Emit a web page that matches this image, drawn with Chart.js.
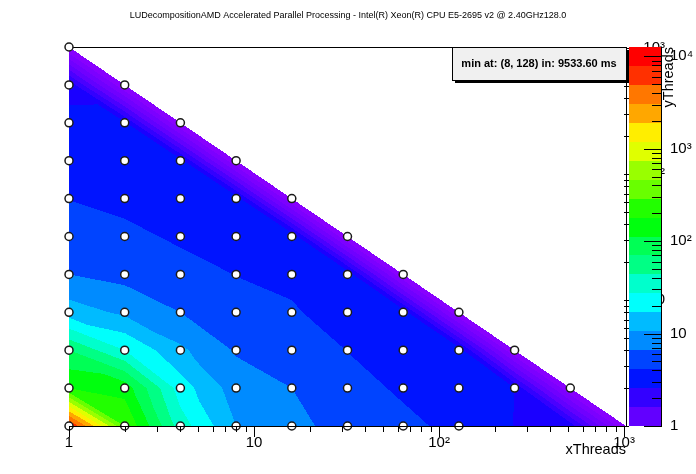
<!DOCTYPE html>
<html><head><meta charset="utf-8">
<script src="https://cdn.jsdelivr.net/npm/chart.js@4.4.1/dist/chart.umd.min.js"></script>
<style>html,body{margin:0;padding:0;background:#fff;overflow:hidden}</style>
</head><body>
<canvas id="c" width="696" height="474" style="display:block;width:696px;height:474px"></canvas>
<script>
const titleText = 'LUDecompositionAMD Accelerated Parallel Processing - Intel(R) Xeon(R) CPU E5-2695 v2 @ 2.40GHz128.0';
const legendText = 'min at: (8, 128) in: 9533.60 ms';
const xTitle = 'xThreads';
const yTitle = 'yThreads';

const xThreads = [1, 2, 4, 8, 16, 32, 64, 128, 256, 512, 1024];
const yThreads = [1, 2, 4, 8, 16, 32, 64, 128, 256, 512, 1024];

// z values per yThreads row, one per xThreads column up to the diagonal
const zY1    = [8630, 288.4, 34.5, 10.6, 7.61, 5.43, 4.50, 3.73, 2.56, 2.34, 0.47];
const zY2    = [179.9, 148.9, 21.5, 8.37, 6.61, 4.71, 3.90, 2.95, 2.57, 0.47];
const zY4    = [70.0, 27.2, 11.6, 6.30, 5.22, 4.09, 3.39, 2.96, 0.47];
const zY8    = [13.4, 9.64, 6.61, 4.98, 4.32, 3.39, 2.96, 0.47];
const zY16   = [6.61, 5.69, 4.71, 4.09, 3.73, 3.10, 0.47];
const zY32   = [5.18, 4.50, 3.90, 3.39, 3.10, 0.47];
const zY64   = [4.09, 3.73, 3.09, 2.96, 0.47];
const zY128  = [3.24, 2.95, 2.82, 0.47];
const zY256  = [2.68, 2.69, 0.47];
const zY512  = [2.45, 0.47];
const zY1024 = [0.47];
const zRows = [zY1, zY2, zY4, zY8, zY16, zY32, zY64, zY128, zY256, zY512, zY1024];

// grid nodes without a drawn marker
const unmarked = [[256, 1], [512, 1], [1024, 1]];

const xTickValues = [1, 10, 100, 1000];
const yTickValues = [1, 10, 100, 1000];
const yLabelValues = [10, 100, 1000];
const zTickValues = [1, 10, 100, 1000, 10000];
const zMin = 1, zMax = 12600, nLevels = 20;

// styles
const bandColors = ['#6200ff','#3300ff','#0014ff','#0044ff','#008bff','#00bbff','#00fffc','#00ffcc','#00ff85','#00ff55',
                    '#00ff0e','#22ff00','#69ff00','#99ff00','#e0ff00','#ffee00','#ffa700','#ff7700','#ff3000','#ff0000'];
// finer shading used in the plot for the lowest levels (level threshold, colour)
const lowShades = [[1.5,'#1a00ff'],[1.0,'#3300ff'],[0.5,'#4a00ff'],[0.0,'#6200ff'],[-0.5,'#7000ff'],[-1.0,'#7c00ff'],[-1e9,'#8800ff']];
const FONT = "'Liberation Sans', Arial, Helvetica, sans-serif";

const SUP = {'0':'\u2070','1':'\u00b9','2':'\u00b2','3':'\u00b3','4':'\u2074','5':'\u2075','6':'\u2076','7':'\u2077','8':'\u2078','9':'\u2079'};
function powLabel(v) {
  const e = Math.round(Math.log10(v));
  if (e === 0) return '1';
  if (e === 1) return '10';
  return '10' + String(e).split('').map(c => SUP[c]).join('');
}
function hexRgb(h) { return [parseInt(h.slice(1,3),16), parseInt(h.slice(3,5),16), parseInt(h.slice(5,7),16)]; }
const bandRgb = bandColors.map(hexRgb);
const lowRgb = lowShades.map(s => [s[0], hexRgb(s[1])]);
const lzMin = Math.log10(zMin), lzMax = Math.log10(zMax);
function levelOf(lz) { return nLevels * (lz - lzMin) / (lzMax - lzMin); }
function rgbForLevel(b) {
  if (b >= 2) return bandRgb[Math.min(nLevels - 1, Math.floor(b))];
  for (const s of lowRgb) if (b >= s[0]) return s[1];
  return lowRgb[lowRgb.length - 1][1];
}
const lzRows = zRows.map(r => r.map(v => Math.log10(v)));
const lxs = xThreads.map(v => Math.log10(v)), lys = yThreads.map(v => Math.log10(v));
const nX = xThreads.length - 1;
function gridCoord(larr, lv) {
  if (lv < larr[0] || lv > larr[larr.length - 1]) return -1;
  let i = 0;
  while (i < larr.length - 2 && lv > larr[i + 1]) i++;
  return i + (lv - larr[i]) / (larr[i + 1] - larr[i]);
}
function lzAt(u, v) {
  if (u < 0 || v < 0 || u + v > nX) return null;
  let i = Math.floor(u), j = Math.floor(v);
  if (i > nX - 1) i = nX - 1;
  if (j > nX - 1) j = nX - 1;
  while (i + j > nX - 1) { if (i > j) i--; else j--; }
  const fu = u - i, fv = v - j;
  const r0 = lzRows[j], r1 = lzRows[j + 1];
  if (fu + fv <= 1 || i + j > nX - 2) {
    return r0[i] + fu * (r0[i + 1] - r0[i]) + fv * (r1[i] - r0[i]);
  }
  const z11 = r1[i + 1];
  return z11 + (1 - fu) * (r1[i] - z11) + (1 - fv) * (r0[i + 1] - z11);
}

const markerData = [];
zRows.forEach((row, j) => row.forEach((z, i) => {
  const x = xThreads[i], y = yThreads[j];
  if (!unmarked.some(p => p[0] === x && p[1] === y)) markerData.push({x, y});
}));

function minorValues(majors, max) {
  const out = [];
  majors.forEach(m => { for (let k = 2; k <= 9; k++) { const v = m * k; if (v <= max) out.push(v); } });
  return out;
}

const contourPlugin = {
  id: 'contour',
  beforeDatasetsDraw(chart) {
    const {ctx, chartArea: ca, scales: {x, y}} = chart;
    const x0 = Math.round(ca.left), y0 = Math.round(ca.top);
    const w = Math.round(ca.right) - x0, h = Math.round(ca.bottom) - y0;
    const off = document.createElement('canvas');
    off.width = w; off.height = h;
    const octx = off.getContext('2d');
    const img = octx.createImageData(w, h);
    const us = [], vs = [];
    for (let px = 0; px < w; px++) us.push(gridCoord(lxs, Math.log10(x.getValueForPixel(x0 + px + 0.5))));
    for (let py = 0; py < h; py++) vs.push(gridCoord(lys, Math.log10(y.getValueForPixel(y0 + py + 0.5))));
    for (let py = 0; py < h; py++) {
      for (let px = 0; px < w; px++) {
        const lz = lzAt(us[px], vs[py]);
        if (lz === null) continue;
        const c = rgbForLevel(levelOf(lz));
        const k = (py * w + px) * 4;
        img.data[k] = c[0]; img.data[k + 1] = c[1]; img.data[k + 2] = c[2]; img.data[k + 3] = 255;
      }
    }
    octx.putImageData(img, 0, 0);
    ctx.save();
    ctx.drawImage(off, x0, y0);
    ctx.strokeStyle = '#000'; ctx.lineWidth = 1;
    ctx.beginPath(); ctx.moveTo(ca.left, ca.top + 0.5); ctx.lineTo(ca.right + 1, ca.top + 0.5); ctx.stroke();
    ctx.restore();
  },
  afterDatasetsDraw(chart) {
    const {ctx, chartArea: ca, scales: {x, y, z}} = chart;
    ctx.save();
    ctx.strokeStyle = '#000'; ctx.lineWidth = 1;
    ctx.beginPath();
    ctx.moveTo(ca.left, ca.bottom + 0.5); ctx.lineTo(ca.right + 1, ca.bottom + 0.5);
    ctx.moveTo(ca.right + 0.5, ca.top); ctx.lineTo(ca.right + 0.5, ca.bottom + 1);
    ctx.stroke();
    ctx.beginPath();
    xTickValues.forEach(v => { const p = Math.round(x.getPixelForValue(v)) + 0.5; ctx.moveTo(p, ca.bottom); ctx.lineTo(p, ca.bottom + 11); });
    minorValues(xTickValues, 1024).forEach(v => { const p = Math.round(x.getPixelForValue(v)) + 0.5; ctx.moveTo(p, ca.bottom); ctx.lineTo(p, ca.bottom + 6); });
    yTickValues.concat(minorValues(yTickValues, 1024)).forEach(v => {
      const p = Math.round(y.getPixelForValue(v)) + 0.5; ctx.moveTo(ca.right - 2, p); ctx.lineTo(ca.right + 3, p);
    });
    ctx.stroke();

    // palette
    const pl = Math.round(ca.right) + 3, pr = Math.round(ca.right) + 35;
    for (let k = 0; k < nLevels; k++) {
      const lo = Math.pow(10, lzMin + k * (lzMax - lzMin) / nLevels);
      const hi = Math.pow(10, lzMin + (k + 1) * (lzMax - lzMin) / nLevels);
      const yb = Math.round(z.getPixelForValue(lo)), yt = Math.round(z.getPixelForValue(hi));
      ctx.fillStyle = bandColors[k];
      ctx.fillRect(pl, yt, pr - pl, yb - yt);
    }
    ctx.beginPath();
    ctx.moveTo(pr + 0.5, ca.top); ctx.lineTo(pr + 0.5, ca.bottom + 1);
    zTickValues.forEach(v => { if (v <= zMax) { const p = Math.round(z.getPixelForValue(v)) + 0.5; ctx.moveTo(pr, p); ctx.lineTo(pr - 17, p); } });
    minorValues(zTickValues, zMax).forEach(v => { const p = Math.round(z.getPixelForValue(v)) + 0.5; ctx.moveTo(pr, p); ctx.lineTo(pr - 9, p); });
    ctx.stroke();
    ctx.fillStyle = '#000';
    ctx.font = '15px ' + FONT;
    ctx.textAlign = 'left'; ctx.textBaseline = 'middle';
    zTickValues.forEach(v => { if (v <= zMax) ctx.fillText(powLabel(v), pr + 9, z.getPixelForValue(v)); });

    ctx.save();
    ctx.translate(pr + 12, ca.top);
    ctx.rotate(-Math.PI / 2);
    ctx.font = '14.5px ' + FONT;
    ctx.textAlign = 'right'; ctx.textBaseline = 'alphabetic';
    ctx.fillText(yTitle, 0, 0);
    ctx.restore();

    const bx = Math.round(ca.right) - 174, by = Math.round(ca.top), bw = 174, bh = 33;
    ctx.fillStyle = '#000';
    ctx.fillRect(bx + 3, by + 3, bw, bh);
    ctx.fillStyle = '#f0f0f0';
    ctx.fillRect(bx, by, bw, bh);
    ctx.strokeRect(bx + 0.5, by + 0.5, bw, bh);
    ctx.fillStyle = '#000';
    ctx.font = 'bold 11px ' + FONT;
    ctx.textAlign = 'center'; ctx.textBaseline = 'middle';
    ctx.fillText(legendText, bx + bw / 2, by + bh / 2 + 0.5);

    ctx.font = '9px ' + FONT;
    ctx.fillText(titleText, chart.width / 2, 16);
    ctx.restore();
  }
};

new Chart(document.getElementById('c'), {
  type: 'scatter',
  data: {
    datasets: [{
      data: markerData,
      xAxisID: 'x', yAxisID: 'y',
      pointRadius: 4, pointBorderWidth: 1.5,
      pointBackgroundColor: '#ffffff', pointBorderColor: '#1a1a1a',
      clip: false
    }]
  },
  options: {
    responsive: false, animation: false, devicePixelRatio: 1, events: [],
    layout: {padding: {top: 47, left: 69, right: 31, bottom: 0}},
    plugins: {legend: {display: false}, tooltip: {enabled: false}, title: {display: false}},
    scales: {
      x: {
        type: 'logarithmic', position: 'bottom', min: 1, max: 1024,
        grid: {display: false, drawTicks: false}, border: {display: false},
        afterBuildTicks: s => { s.ticks = xTickValues.map(v => ({value: v, major: true})); },
        afterFit: s => { s.height = 48; },
        ticks: {autoSkip: false, maxRotation: 0, padding: 7.5, color: '#000',
                font: {family: FONT, size: 15}, callback: v => powLabel(v)},
        title: {display: true, text: xTitle, align: 'end', color: '#000',
                font: {family: FONT, size: 14.5}, padding: {top: 0, bottom: 15}}
      },
      y: {
        type: 'logarithmic', position: 'right', min: 1, max: 1024,
        grid: {display: false, drawTicks: false}, border: {display: false},
        afterBuildTicks: s => { s.ticks = yLabelValues.map(v => ({value: v, major: true})); },
        afterFit: s => { s.width = 39; },
        ticks: {autoSkip: false, crossAlign: 'far', padding: 4, color: '#000',
                font: {family: FONT, size: 15}, callback: v => powLabel(v)}
      },
      z: {
        type: 'logarithmic', axis: 'y', position: 'right', display: false, min: zMin, max: zMax
      }
    }
  },
  plugins: [contourPlugin]
});
</script>
</body></html>
